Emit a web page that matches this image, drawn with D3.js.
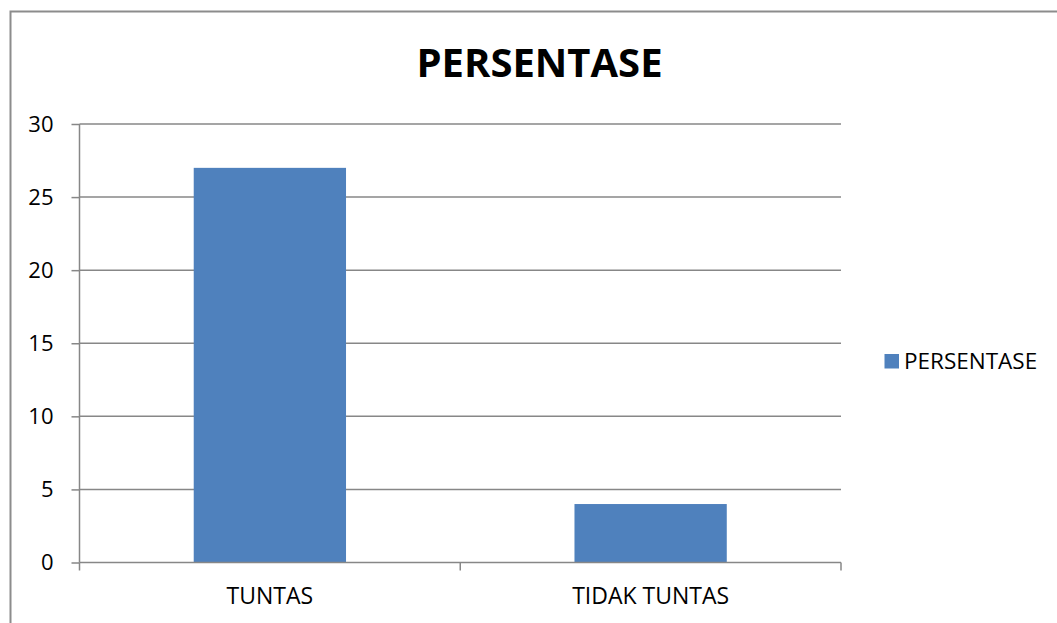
<!DOCTYPE html>
<html><head><meta charset="utf-8">
<script src="https://cdn.jsdelivr.net/npm/d3@7"></script>
<style>body{margin:0;background:#fff}svg{display:block}text{font-family:"Open Sans",sans-serif}</style>
</head><body>
<svg id="c" width="1057" height="623"></svg>
<script>
const categories = ["TUNTAS", "TIDAK TUNTAS"];
const values = [27, 4];
const yTicks = [0, 5, 10, 15, 20, 25, 30];
const seriesName = "PERSENTASE";
const title = "PERSENTASE";

const svg = d3.select("#c");
const W = 1057, H = 623;
const m = {left: 79.5, right: 841, top: 124, bottom: 562.5};

// outer frame (left and top edges visible)
svg.append("path").attr("d", `M10.5,${H} V11.5 H${W}`).attr("fill","none").attr("stroke","#8c8c8c").attr("stroke-width",2);

const x = d3.scaleBand().domain(categories).range([m.left, m.right]).paddingInner(0.6).paddingOuter(0.3);
const y = d3.scaleLinear().domain([0, 30]).range([m.bottom, m.top]);

// gridlines
svg.append("g").selectAll("line").data(yTicks.filter(d=>d>0)).join("line")
  .attr("x1", m.left).attr("x2", m.right)
  .attr("y1", d=>y(d)).attr("y2", d=>y(d))
  .attr("stroke","#878787").attr("stroke-width",1.5);

// bars
svg.append("g").selectAll("rect").data(values).join("rect")
  .attr("x",(d,i)=>x(categories[i])).attr("width",x.bandwidth())
  .attr("y",d=>y(d)).attr("height",d=>y(0)-y(d))
  .attr("fill","#4f81bd");

// y axis
const ya = svg.append("g").attr("transform",`translate(${m.left},0)`)
  .call(d3.axisLeft(y).tickValues(yTicks).tickSize(8).tickPadding(18));
ya.select(".domain").attr("stroke","#878787").attr("stroke-width",1.5).attr("d",`M0,${m.top}V${m.bottom}`);
ya.selectAll(".tick line").attr("stroke","#878787").attr("stroke-width",1.5);
ya.selectAll(".tick text").attr("font-size",22).attr("fill","#000").attr("font-family","Open Sans");

// x axis
const xb = d3.scalePoint().domain([0,1,2]).range([m.left, m.right]);
const xa = svg.append("g").attr("transform",`translate(0,${m.bottom})`);
xa.append("line").attr("x1",m.left).attr("x2",m.right).attr("stroke","#878787").attr("stroke-width",1.5);
xa.selectAll(".t").data([0,1,2]).join("line").attr("class","t")
  .attr("x1",d=>xb(d)).attr("x2",d=>xb(d)).attr("y1",0).attr("y2",8)
  .attr("stroke","#878787").attr("stroke-width",1.5);
xa.selectAll("text").data(categories).join("text")
  .attr("x",d=>x(d)+x.bandwidth()/2).attr("y",41.5)
  .attr("text-anchor","middle").attr("font-size",23).attr("fill","#000").text(d=>d);

// title
svg.append("text").attr("x",539.5).attr("y",77).attr("text-anchor","middle")
  .attr("font-size",40).attr("font-weight","bold").attr("fill","#000").text(title);

// legend
const lg = svg.append("g");
lg.append("rect").attr("x",884.5).attr("y",354).attr("width",14.5).attr("height",14.5).attr("fill","#4f81bd");
lg.append("text").attr("x",904).attr("y",369).attr("font-size",22.5).attr("fill","#000").text(seriesName);
</script>
</body></html>
